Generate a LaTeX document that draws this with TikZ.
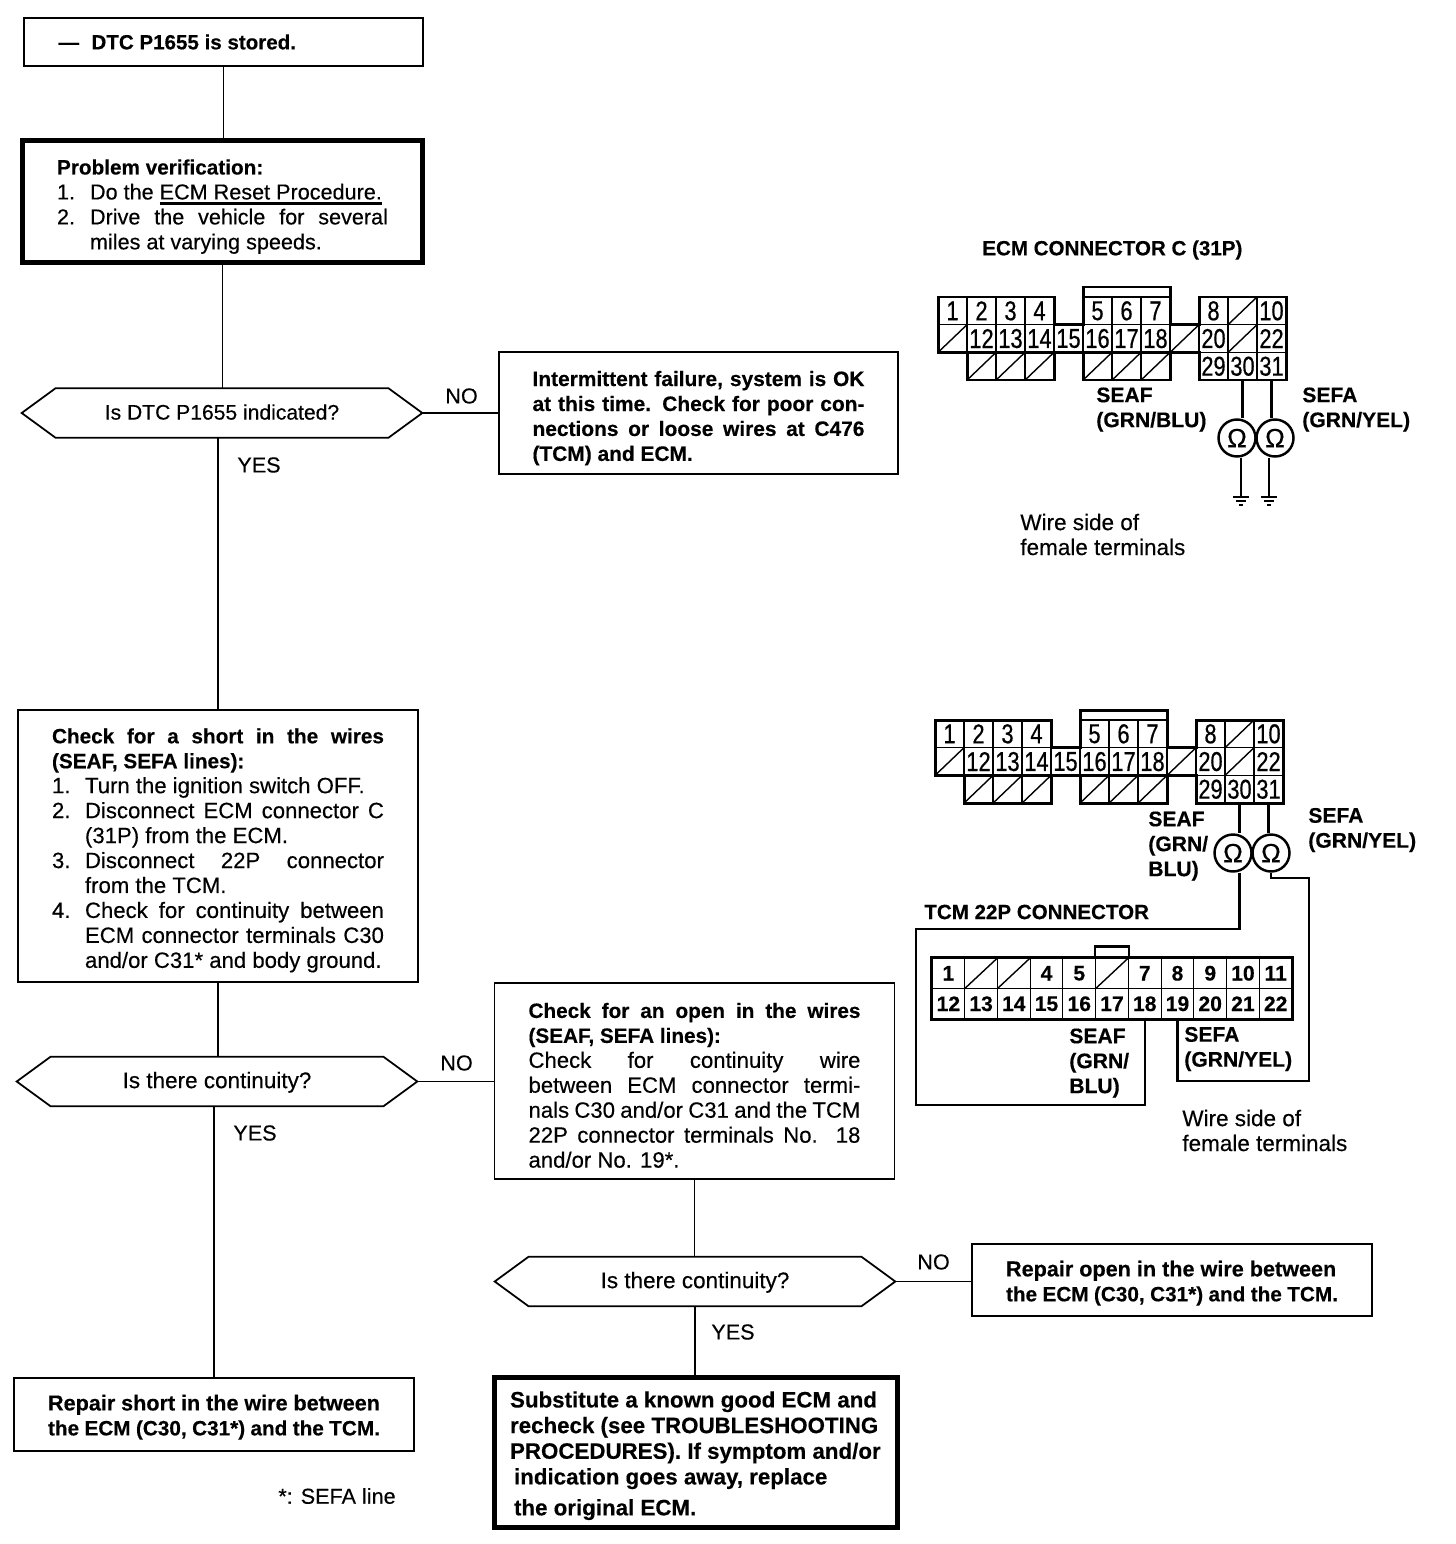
\documentclass[tikz,border=0pt]{standalone}
\usepackage{fontspec}
\setmainfont{Liberation Sans}[FakeBold=0.35]
\newfontfamily\pinfont{Liberation Sans}[FakeStretch=0.8, FakeBold=0.6]
\newcommand{\lift}[1]{\rule{0pt}{#1}}
\newcommand{\head}[1]{{\fontsize{11.8}{14.2}\selectfont\bfseries #1}}
\newcommand{\nr}[1]{\makebox[0.66cm][l]{#1}}
\newcommand{\fullline}[1]{\makebox[\hsize][s]{#1}}
\newcommand{\fullitem}[2]{\nr{#1}\makebox[\dimexpr\hsize-0.66cm\relax][s]{#2}}
\newcommand{\barunder}[1]{\setbox0\hbox{#1}\rlap{\rule[-3.2pt]{\wd0}{1.6pt}}\box0}
\tikzset{
  flowbox/.style={draw, line width=1pt, align=flush left, inner ysep=0pt},
  endbox/.style={flowbox, line width=2.8pt},
  hexbox/.style={minimum width=8cm, minimum height=0.98cm, inner sep=0pt, text height=9pt, text depth=1.5pt,
    append after command={
      (\tikzlastnode.west) edge[line width=1pt, to path={
        -- ([xshift=0.68cm]\tikzlastnode.north west)
        -- ([xshift=-0.68cm]\tikzlastnode.north east)
        -- (\tikzlastnode.east)
        -- ([xshift=-0.68cm]\tikzlastnode.south east)
        -- ([xshift=0.68cm]\tikzlastnode.south west)
        -- cycle}] ()}},
  link/.style={line width=1pt},
  tag/.style={anchor=west, inner sep=0pt, align=flush left},
  wiretag/.style={tag, font=\fontsize{12}{14.2}\selectfont\bfseries},
  titletag/.style={tag, font=\fontsize{11.7}{14.2}\selectfont\bfseries},
  sidetag/.style={tag, font=\fontsize{12.8}{14.2}\selectfont},
  boldtext/.style={font=\fontsize{12.3}{14.2}\selectfont\bfseries},
  bodytext/.style={font=\fontsize{12.6}{14.2}\selectfont},
  wire/.style={line width=1.4pt},
  pincell/.style={draw, line width=0.6pt, minimum width=0.58cm, minimum height=0.554cm, inner sep=0pt, font=\fontsize{15.5}{16}\pinfont},
  tcmcell/.style={draw, line width=0.6pt, minimum width=0.654cm, minimum height=0.61cm, inner sep=0pt, font=\fontsize{12}{14}\selectfont\bfseries},
  meter/.style={circle, draw, line width=1.4pt, minimum size=0.74cm, inner sep=0pt, font=\fontsize{15}{15}\selectfont},
}
\begin{document}
\begin{tikzpicture}[x=0.02cm, y=-0.02cm, font=\fontsize{12.3}{14.2}\selectfont]
\useasboundingbox (0,0) rectangle (1456,1544);
%% flow column on the left
\node[flowbox, minimum height=0.96cm, text width=6.6cm, inner xsep=0.69cm, font=\fontsize{11.7}{14.2}\selectfont\bfseries] (stored) at (223.5,42)
  {\nr{---}DTC P1655 is stored.};
\node[endbox, minimum height=2.44cm, text width=6.62cm, inner xsep=0.69cm] (verify) at (222.5,201.5)
  {\lift{14.4pt}\head{Problem verification:}\\
   \nr{1.}Do the \barunder{ECM Reset Procedure.}\\
   \fullitem{2.}{Drive the vehicle for several}\\
   \nr{}miles at varying speeds.};
\node[hexbox, font=\fontsize{12}{14.2}\selectfont] (shown) at (222,413) {Is DTC P1655 indicated?};
\node[flowbox, minimum height=5.44cm, text width=6.64cm, inner xsep=0.68cm, bodytext] (short) at (218,846)
  {\lift{13.5pt}\head{\fullline{Check for a short in the wires}}\\
   \head{(SEAF, SEFA lines):}\\
   \nr{1.}Turn the ignition switch OFF.\\
   \fullitem{2.}{Disconnect ECM connector C}\\
   \nr{}(31P) from the ECM.\\
   \fullitem{3.}{Disconnect 22P connector}\\
   \nr{}from the TCM.\\
   \fullitem{4.}{Check for continuity between}\\
   \fullitem{}{ECM connector terminals C30}\\
   \nr{}and/or C31* and body ground.};
\node[hexbox, font=\fontsize{12.8}{14.2}\selectfont] (contA) at (217,1081.5) {Is there continuity?};
\node[flowbox, minimum height=1.46cm, minimum width=8cm, text width=6.64cm, inner xsep=0.68cm, boldtext] (fixshort) at (214,1414.5)
  {\lift{12pt}Repair short in the wire between\\\head{the ECM (C30, C31*) and the TCM.}};
%% flow column in the middle
\node[flowbox, minimum height=2.44cm, text width=6.64cm, inner xsep=0.67cm, font=\fontsize{11.9}{14.2}\selectfont\bfseries] (okay) at (698.5,413)
  {\lift{14.4pt}\fullline{Intermittent failure, system is OK}\\
   \fullline{at this time. Check for poor con-}\\
   \fullline{nections or loose wires at C476}\\
   (TCM) and ECM.};
\node[flowbox, minimum height=3.92cm, text width=6.64cm, inner xsep=0.68cm, bodytext] (open) at (694.5,1081)
  {\lift{13.5pt}\head{\fullline{Check for an open in the wires}}\\
   \head{(SEAF, SEFA lines):}\\
   \fullline{Check for continuity wire}\\
   \fullline{between ECM connector termi-}\\
   \fullline{nals C30 and/or C31 and the TCM}\\
   \fullline{22P connector terminals No. 18}\\
   and/or No. 19*.};
\node[hexbox, font=\fontsize{12.8}{14.2}\selectfont] (contB) at (695,1281.5) {Is there continuity?};
\node[endbox, minimum height=3cm, text width=7.44cm, inner xsep=0.31cm, font=\fontsize{12.7}{14.6}\selectfont\bfseries] (subst) at (696,1452.5)
  {\lift{12.8pt}Substitute a known good ECM and\\
   recheck (see TROUBLESHOOTING\\
   PROCEDURES). If symptom and/or\\
   \hspace{0.08cm}indication goes away, replace\\[3pt]
   \hspace{0.08cm}the original ECM.};
\node[flowbox, minimum height=1.44cm, text width=6.64cm, inner xsep=0.68cm, boldtext] (fixopen) at (1172,1280)
  {\lift{12.5pt}Repair open in the wire between\\\head{the ECM (C30, C31*) and the TCM.}};
\node[tag] (note) at (278,1496) {*: SEFA line};
%% connectors of the flow
\draw[link] (stored.south) -- (stored.south |- verify.north);
\draw[link] (verify.south) -- (verify.south |- shown.north);
\draw[link] (shown.south -| short.north) -- (short.north);
\draw[link] (short.south) -- (short.south |- contA.north);
\draw[link] (contA.south -| fixshort.north) -- (fixshort.north);
\draw[link] (open.south) -- (open.south |- contB.north);
\draw[link] (contB.south) -- (contB.south |- subst.north);
\draw[link] (shown.east) -- (okay.west);
\draw[link] (contA.east) -- (contA.east -| open.west);
\draw[link] (contB.east) -- (contB.east -| fixopen.west);
\node[tag] (noA) at (445,396) {NO};
\node[tag] (yesA) at (237,465) {YES};
\node[tag] (noB) at (440,1063) {NO};
\node[tag] (yesB) at (233,1133) {YES};
\node[tag] (noC) at (917,1262) {NO};
\node[tag] (yesC) at (711,1332) {YES};
%% the two ECM connector views
\foreach \c/\sx/\sy in {a/938/297,b/935/720} {
  \begin{scope}[shift={(\sx,\sy)}]
    \foreach \n/\i/\j in {1/0/0,2/1/0,3/2/0,4/3/0,5/5/0,6/6/0,7/7/0,8/9/0,10/11/0,12/1/1,13/2/1,14/3/1,15/4/1,16/5/1,17/6/1,18/7/1,20/9/1,22/11/1,29/9/2,30/10/2,31/11/2}
      \node[pincell] (\c\n) at ({\i*29+14.5},{\j*27.7+13.85}) {\n};
    \foreach \n/\i/\j in {9/10/0,11/0/1,19/8/1,21/10/1,23/1/2,24/2/2,25/3/2,26/5/2,27/6/2,28/7/2} {
      \node[pincell] (\c\n) at ({\i*29+14.5},{\j*27.7+13.85}) {};
      \draw[line width=0.8pt] (\c\n.south west) -- (\c\n.north east);
    }
    \draw[line width=1.7pt, line join=miter] (0,0) -- (116,0) -- (116,27.7) -- (145,27.7) -- (145,-10) -- (232,-10) -- (232,27.7) -- (261,27.7) -- (261,0) -- (348,0) -- (348,83) -- (261,83) -- (261,55.4) -- (232,55.4) -- (232,83) -- (145,83) -- (145,55.4) -- (116,55.4) -- (116,83) -- (29,83) -- (29,55.4) -- (0,55.4) -- cycle;
    \draw[line width=1.7pt] (29,55.4) -- (232,55.4);
  \end{scope}
}
\node[titletag] (titleA) at (982,250) {ECM CONNECTOR C (31P)};
\node[wiretag] (seafA) at (1096,409.5) {SEAF\\(GRN/BLU)};
\node[wiretag] (sefaA) at (1302,409.5) {SEFA\\(GRN/YEL)};
\node[sidetag] (sideA) at (1020,534.5) {Wire side of\\female terminals};
\node[meter] (omA) at (1237,438) {Ω};
\node[meter] (omB) at (1275,438) {Ω};
\draw[wire] (a30.south) -- (a30.south |- omA.north);
\draw[wire] (a31.south) -- (a31.south |- omB.north);
\coordinate (gndA) at (1241,497);
\coordinate (gndB) at (1269,497);
\foreach \g/\om in {gndA/omA,gndB/omB} {
  \draw[wire] (\om.south -| \g) -- (\g);
  \draw[line width=0.9pt] ([xshift=-0.16cm]\g) -- ([xshift=0.16cm]\g);
  \draw[line width=0.8pt] ([xshift=-0.1cm,yshift=-0.08cm]\g) -- ([xshift=0.1cm,yshift=-0.08cm]\g);
  \draw[line width=0.8pt] ([xshift=-0.04cm,yshift=-0.16cm]\g) -- ([xshift=0.04cm,yshift=-0.16cm]\g);
}
%% the TCM connector view
\begin{scope}[shift={(932,958)}]
  \foreach \n in {1,4,5,7,8,9,10,11}
    \node[tcmcell] (t\n) at ({(\n-1)*32.73+16.36},15.25) {\n};
  \foreach \n in {2,3,6} {
    \node[tcmcell] (t\n) at ({(\n-1)*32.73+16.36},15.25) {};
    \draw[line width=0.8pt] (t\n.south west) -- (t\n.north east);
  }
  \foreach \n in {12,...,22}
    \node[tcmcell] (t\n) at ({(\n-12)*32.73+16.36},45.75) {\n};
\end{scope}
\draw[line width=1.7pt] (t1.north west) rectangle (t22.south east);
\draw[line width=1.4pt] (t6.north west) -- ++(0,-11) -| (t6.north east);
\node[meter] (omC) at (1233,853) {Ω};
\node[meter] (omD) at (1271,853) {Ω};
\draw[wire] (b30.south) -- (b30.south |- omC.north);
\draw[wire] (b31.south) -- (b31.south |- omD.north);
\draw[wire] (omC.south -| b30.south) -- (b30.south |- 0,929) -- (916,929) -- (916,1105) -| (t18.south);
\draw[wire] (omD.south) |- (1309,878) -- (1309,1081) -| (t19.south);
\node[wiretag] (seafB) at (1148,846) {SEAF\\(GRN/\\BLU)};
\node[wiretag] (sefaB) at (1308,830) {SEFA\\(GRN/YEL)};
\node[titletag] (titleB) at (924,912) {TCM 22P CONNECTOR};
\node[wiretag] (seafC) at (1069,1063) {SEAF\\(GRN/\\BLU)};
\node[wiretag] (sefaC) at (1184,1049) {SEFA\\(GRN/YEL)};
\node[sidetag] (sideB) at (1182,1130.5) {Wire side of\\female terminals};
\end{tikzpicture}
\end{document}
